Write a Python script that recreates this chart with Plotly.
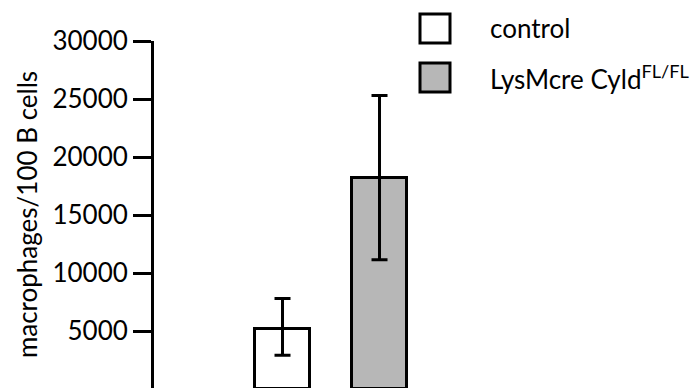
import plotly.graph_objects as go

groups = ["control", "LysMcre Cyld<sup>FL/FL</sup>"]
means = [5200, 18200]
err_plus = [2600, 7100]
err_minus = [2300, 7050]
colors = ["#ffffff", "#b7b7b7"]
x_pos = [0, 1]
yticks = [5000, 10000, 15000, 20000, 25000, 30000]

W, H = 699, 388
ML, MR, MT, MB = 154, 0, 41, 0
FONT = "Lato"

fig = go.Figure()
for i in range(2):
    fig.add_trace(go.Bar(
        x=[x_pos[i]], y=[means[i]], width=0.56,
        marker=dict(color=colors[i], line=dict(color="black", width=3)),
        error_y=dict(type="data", array=[err_plus[i]], arrayminus=[err_minus[i]],
                     symmetric=False, color="black", thickness=3, width=8),
        showlegend=False, name=groups[i],
    ))

def px(xp):
    return (xp - ML) / (W - ML - MR)

def py(yp):
    return 1 - (yp - MT) / (H - MT - MB)

legend_boxes = [(420, 14, 450, 43), (420, 63, 450, 92)]
for i, (x0, y0, x1, y1) in enumerate(legend_boxes):
    fig.add_shape(type="rect", xref="paper", yref="paper",
                  x0=px(x0), x1=px(x1), y0=py(y1), y1=py(y0),
                  fillcolor=colors[i], line=dict(color="black", width=3))
    fig.add_annotation(xref="paper", yref="paper", x=px(488), y=py((y0 + y1) / 2),
                       text=groups[i], showarrow=False, xanchor="left", yanchor="middle",
                       font=dict(family=FONT, size=26, color="black"))

fig.update_layout(
    width=W, height=H,
    margin=dict(l=ML, r=MR, t=MT, b=MB, pad=0),
    plot_bgcolor="white", paper_bgcolor="white",
    bargap=0,
    xaxis=dict(range=[-1.325, 4.294], visible=False),
    yaxis=dict(range=[86, 30000], tickvals=yticks, ticktext=[str(v) for v in yticks],
               showgrid=False, zeroline=False, showline=True, linecolor="black", linewidth=3,
               ticks="outside", ticklen=18, tickwidth=3, tickcolor="black",
               tickfont=dict(family=FONT, size=26, color="black"),
               title=dict(text="macrophages/100 B cells", standoff=8,
                          font=dict(family=FONT, size=26, color="black"))),
    font=dict(family=FONT, color="black"),
)

fig.write_html("out.html")
